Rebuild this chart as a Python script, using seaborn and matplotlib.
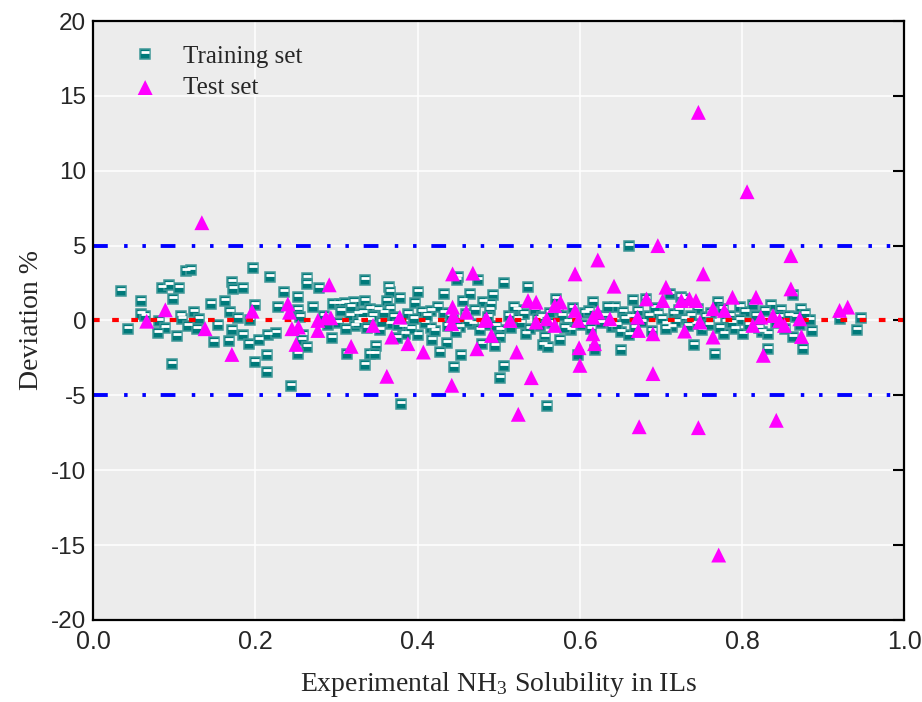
#!/usr/bin/env python
"""
  Deviation plot of predicted NH3 solubility in ILs (training / test sets)
"""

import matplotlib
import matplotlib.pyplot as plt

matplotlib.use("Agg")
import seaborn as sns
import pandas as pd
from matplotlib.markers import MarkerStyle
from matplotlib.transforms import Affine2D
from matplotlib.legend_handler import HandlerTuple

# training set: experimental solubility vs. relative deviation (%)
train_x = [
    0.034, 0.059, 0.043, 0.059, 0.064, 0.081, 0.085, 0.094, 0.106, 0.098,
    0.088, 0.080, 0.103, 0.097, 0.108, 0.110, 0.115, 0.121, 0.124, 0.130,
    0.117, 0.128, 0.145, 0.154, 0.149, 0.163, 0.171, 0.172, 0.185, 0.169,
    0.179, 0.171, 0.167, 0.185, 0.192, 0.204, 0.197, 0.218, 0.200, 0.193,
    0.214, 0.199, 0.214, 0.216, 0.226, 0.228, 0.235, 0.244, 0.264, 0.264,
    0.278, 0.253, 0.253, 0.255, 0.271, 0.259, 0.257, 0.263, 0.253, 0.294,
    0.296, 0.304, 0.310, 0.321, 0.335, 0.302, 0.316, 0.327, 0.331, 0.323,
    0.313, 0.335, 0.341, 0.351, 0.341, 0.335, 0.349, 0.341, 0.347, 0.365,
    0.366, 0.362, 0.366, 0.378, 0.397, 0.401, 0.366, 0.382, 0.384, 0.401,
    0.353, 0.374, 0.405, 0.417, 0.417, 0.418, 0.380, 0.432, 0.433, 0.444,
    0.452, 0.436, 0.428, 0.450, 0.448, 0.456, 0.464, 0.481, 0.454, 0.445,
    0.468, 0.477, 0.479, 0.474, 0.507, 0.493, 0.489, 0.491, 0.501, 0.501,
    0.495, 0.507, 0.502, 0.522, 0.536, 0.524, 0.534, 0.557, 0.555, 0.561,
    0.544, 0.553, 0.571, 0.573, 0.575, 0.560, 0.598, 0.585, 0.589, 0.606,
    0.616, 0.618, 0.631, 0.643, 0.653, 0.663, 0.639, 0.651, 0.660, 0.650,
    0.665, 0.681, 0.696, 0.706, 0.713, 0.711, 0.725, 0.661, 0.706, 0.727,
    0.746, 0.729, 0.743, 0.751, 0.741, 0.766, 0.770, 0.776, 0.780, 0.778,
    0.791, 0.801, 0.797, 0.803, 0.813, 0.797, 0.825, 0.832, 0.832, 0.835,
    0.848, 0.858, 0.862, 0.872, 0.883, 0.871, 0.862, 0.886, 0.875, 0.920,
    0.947, 0.942,
    0.285, 0.289, 0.306, 0.312, 0.318, 0.326, 0.333, 0.338, 0.345, 0.356,
    0.359, 0.371, 0.376, 0.388, 0.392, 0.395, 0.409, 0.412, 0.421, 0.425,
    0.438, 0.441, 0.447, 0.459, 0.462, 0.471, 0.484, 0.487, 0.497, 0.512,
    0.515, 0.519, 0.527, 0.531, 0.539, 0.548, 0.551, 0.563, 0.566, 0.578,
    0.581, 0.592, 0.595, 0.602, 0.611, 0.614, 0.622, 0.626, 0.634, 0.646,
    0.656, 0.668, 0.672, 0.676, 0.685, 0.689, 0.693, 0.701, 0.716, 0.719,
    0.722, 0.733, 0.737, 0.755, 0.759, 0.762, 0.773, 0.785, 0.788, 0.808,
    0.817, 0.821, 0.828, 0.842, 0.845, 0.853, 0.866, 0.878,
]
train_y = [
    2.00, 1.33, -0.60, 0.40, 0.27, -0.05, 2.20, 2.40, 2.20, 1.45,
    -0.50, -0.85, -1.07, -2.93, 0.33, 0.10, 3.30, 3.40, 0.55, 0.10,
    -0.40, -0.55, 1.10, -0.27, -1.45, 1.33, 2.55, 2.10, 2.20, 0.55,
    0.18, -0.62, -1.38, -1.00, -1.60, -1.33, 3.50, 2.90, 1.00, 0.00,
    -2.33, -2.78, -3.45, -1.00, -0.85, 0.93, 1.90, -4.40, 2.85, 2.45,
    2.20, 1.55, 0.67, 0.22, 0.93, -1.00, -1.33, -1.78, -2.22, -1.16,
    1.07, 1.11, 1.16, 1.22, 1.33, -0.18, 0.27, 0.44, 0.04, -0.40,
    -2.22, 2.71, 0.78, 0.67, 0.00, -3.00, -1.73, -2.22, -2.22, 2.22,
    1.89, 1.33, 0.78, 1.51, 1.16, 1.89, -0.22, -0.44, -0.89, -1.00,
    -0.62, -1.16, 0.55, 0.62, -0.49, -1.29, -5.60, 1.78, 0.49, 0.00,
    -0.44, -1.51, -2.11, 2.89, 2.67, 1.33, 1.78, 1.22, -2.33, -3.11,
    -0.22, -0.62, -1.55, 2.67, 2.49, 1.67, 0.67, 1.11, -0.67, -1.11,
    -1.73, -3.07, -3.82, 0.67, 2.22, 0.11, -0.89, -1.11, -1.67, -1.78,
    0.67, 0.22, 1.44, 0.67, -1.33, -5.71, -2.33, -0.11, -0.67, 0.49,
    1.22, -2.00, 0.33, 0.89, 0.55, 0.22, -0.44, -0.78, -1.00, -1.96,
    1.38, 1.44, 0.44, -0.22, -0.44, 1.78, 1.55, 5.00, -0.60, 1.44,
    0.78, 0.11, -0.22, -0.67, -1.67, -2.22, 1.22, 0.78, -0.11, -0.89,
    -0.55, -0.89, 0.89, 0.55, 1.00, 0.00, -0.78, -0.89, -1.89, 1.00,
    0.67, 0.33, 1.71, 0.78, 0.00, -0.33, -1.11, -0.71, -1.89, 0.11,
    0.18, -0.62,
    0.30, -0.30, 0.60, -0.60, 0.90, -0.20, 0.50, -0.50, 0.30, -0.10,
    0.50, 0.20, -0.30, 0.40, -0.60, 0.10, -0.20, 0.30, -0.70, 0.90,
    -0.40, 0.30, -0.80, 0.40, -0.10, 0.70, -0.30, 0.20, -0.40, 0.30,
    -0.50, 0.90, -0.20, 0.40, -0.60, 0.10, -0.40, 0.50, -0.20, 0.30,
    -0.50, 0.80, 0.10, -0.30, 0.60, -0.60, 0.20, -0.20, 0.90, -0.30,
    0.10, -0.50, 0.60, -0.10, 0.30, -0.70, 0.80, 0.10, 0.40, -0.10,
    0.70, -0.40, 0.30, 0.20, -0.30, 0.50, -0.50, 0.30, -0.20, -0.30,
    0.30, -0.50, 0.60, -0.20, 0.20, -0.60, 0.20, 0.40,
]

# test set
test_x = [
    0.134, 0.089, 0.066, 0.138, 0.171, 0.196, 0.240, 0.242, 0.245, 0.291,
    0.253, 0.250, 0.277, 0.287, 0.293, 0.277, 0.318, 0.345, 0.362, 0.368,
    0.378, 0.388, 0.407, 0.443, 0.468, 0.443, 0.444, 0.442, 0.460, 0.442,
    0.473, 0.485, 0.483, 0.491, 0.622, 0.594, 0.642, 0.696, 0.706, 0.536,
    0.546, 0.569, 0.576, 0.594, 0.622, 0.514, 0.546, 0.559, 0.569, 0.598,
    0.616, 0.637, 0.671, 0.522, 0.540, 0.524, 0.599, 0.600, 0.616, 0.618,
    0.672, 0.690, 0.690, 0.682, 0.702, 0.725, 0.752, 0.860, 0.860, 0.735,
    0.743, 0.788, 0.817, 0.764, 0.778, 0.748, 0.729, 0.764, 0.823, 0.838,
    0.846, 0.852, 0.813, 0.871, 0.873, 0.826, 0.920, 0.930, 0.746, 0.806,
    0.771, 0.673, 0.746, 0.842,
]
test_y = [
    6.53, 0.71, -0.05, -0.55, -2.27, 0.62, 1.10, 0.55, -0.55, 2.38,
    -0.44, -1.60, -0.67, 0.18, 0.18, 0.00, -1.73, -0.33, -3.73, -1.11,
    0.22, -1.55, -2.11, 3.11, 3.16, 0.89, 0.33, -0.22, 0.55, -4.33,
    -1.89, 0.11, 0.00, -1.00, 4.04, 3.11, 2.29, 5.00, 2.22, 1.33,
    1.22, 1.00, 1.22, 0.67, 0.55, 0.00, -0.11, 0.11, -0.33, 0.00,
    0.22, 0.11, 0.22, -2.11, -3.82, -6.27, -1.82, -3.00, -0.89, -1.55,
    -0.67, -0.89, -3.55, 1.44, 1.33, 1.33, 3.11, 4.33, 2.11, 1.44,
    1.33, 1.55, 1.55, 0.78, 0.67, -0.11, -0.71, -1.11, 0.22, 0.33,
    0.00, -0.33, -0.33, 0.11, -1.07, -2.33, 0.67, 0.89, 13.90, 8.60,
    -15.67, -7.10, -7.16, -6.67,
]

x_ticks = [0.0, 0.2, 0.4, 0.6, 0.8, 1.0]
y_ticks = [-20, -15, -10, -5, 0, 5, 10, 15, 20]
band = 5

SERIF = ["Liberation Serif", "DejaVu Serif"]
SANS = ["Liberation Sans", "DejaVu Sans"]
NARROW = ["Liberation Sans Narrow", "Liberation Sans", "DejaVu Sans"]
TEAL = "#007a7a"


def main():
    sns.set_theme(style="darkgrid")
    plt.rcParams["font.family"] = SERIF
    plt.rcParams["mathtext.fontset"] = "custom"
    plt.rcParams["mathtext.rm"] = "Liberation Serif"
    plt.rcParams["mathtext.default"] = "rm"

    train = pd.DataFrame({"x": train_x, "y": train_y})
    test = pd.DataFrame({"x": test_x, "y": test_y})

    fig = plt.figure(figsize=(9.22, 7.02), dpi=100)
    ax = fig.add_axes([0.101, 0.117, 0.880, 0.853])
    ax.set_facecolor("#ececec")

    # +/- 5 % band
    for lvl in (band, -band):
        ax.axhline(lvl, color="#0000ff", lw=2.8, zorder=1.5,
                   linestyle=(0, (3.8, 4.2, 0.9, 3.8, 0.9, 3.8)))

    # training squares: teal box with a white stripe near the top
    sns.lineplot(
        data=train, x="x", y="y", estimator=None, sort=False, ax=ax,
        linestyle="", marker="s", markersize=7.3,
        markerfacecolor=TEAL, markeredgecolor="#3f9898", markeredgewidth=1.1,
        color=TEAL, label="Training set", zorder=2,
    )
    sq = ax.lines[-1]
    stripe_marker = MarkerStyle("_", transform=Affine2D().translate(0, 0.3))
    sns.lineplot(
        data=train, x="x", y="y", estimator=None, sort=False, ax=ax,
        linestyle="", marker=stripe_marker, markersize=5.2,
        markeredgewidth=2.0, markeredgecolor="white", color="white", zorder=2.1,
    )
    stripe = ax.lines[-1]

    ax.axhline(0, color="#ff0000", lw=3.0, zorder=2.5,
               linestyle=(0, (1.6, 3.0)))
    sns.scatterplot(
        data=test, x="x", y="y", ax=ax, marker="^", s=115,
        color="#ff00ff", edgecolor="none", label="Test set", zorder=3,
    )

    ax.set_xlim(0, 1)
    ax.set_ylim(-20, 20)
    ax.set_xticks(x_ticks)
    ax.set_yticks(y_ticks)
    ax.set_xticklabels([f"{t:.1f}" for t in x_ticks], family=NARROW, fontsize=18)
    ax.set_yticklabels([str(t) for t in y_ticks], family=SANS, fontsize=17.5)
    ax.grid(True, color="white", lw=1.1)
    ax.tick_params(axis="both", direction="in", length=8, width=1.5,
                   color="black", top=False, right=True, pad=7)
    ax.tick_params(axis="y", pad=5)
    for s in ax.spines.values():
        s.set_visible(True)
        s.set_color("black")
        s.set_linewidth(1.6)
        s.set_zorder(5)

    ax.set_xlabel("Experimental NH$_3$ Solubility in ILs", fontsize=20,
                  family=SERIF, labelpad=12)
    ax.set_ylabel("Deviation %", fontsize=20, family=SERIF, labelpad=5)

    handles, labels = ax.get_legend_handles_labels()
    tri = handles[labels.index("Test set")]
    ax.legend([(sq, stripe), tri], ["Training set", "Test set"],
              handler_map={tuple: HandlerTuple(ndivide=1, pad=0)},
              loc="upper left", bbox_to_anchor=(0.021, 0.997), frameon=False,
              prop={"family": SERIF, "size": 18}, handlelength=1.0,
              handletextpad=1.0, labelspacing=0.35, numpoints=1)

    fig.savefig("out.png", dpi=100)


if __name__ == "__main__":
    main()
